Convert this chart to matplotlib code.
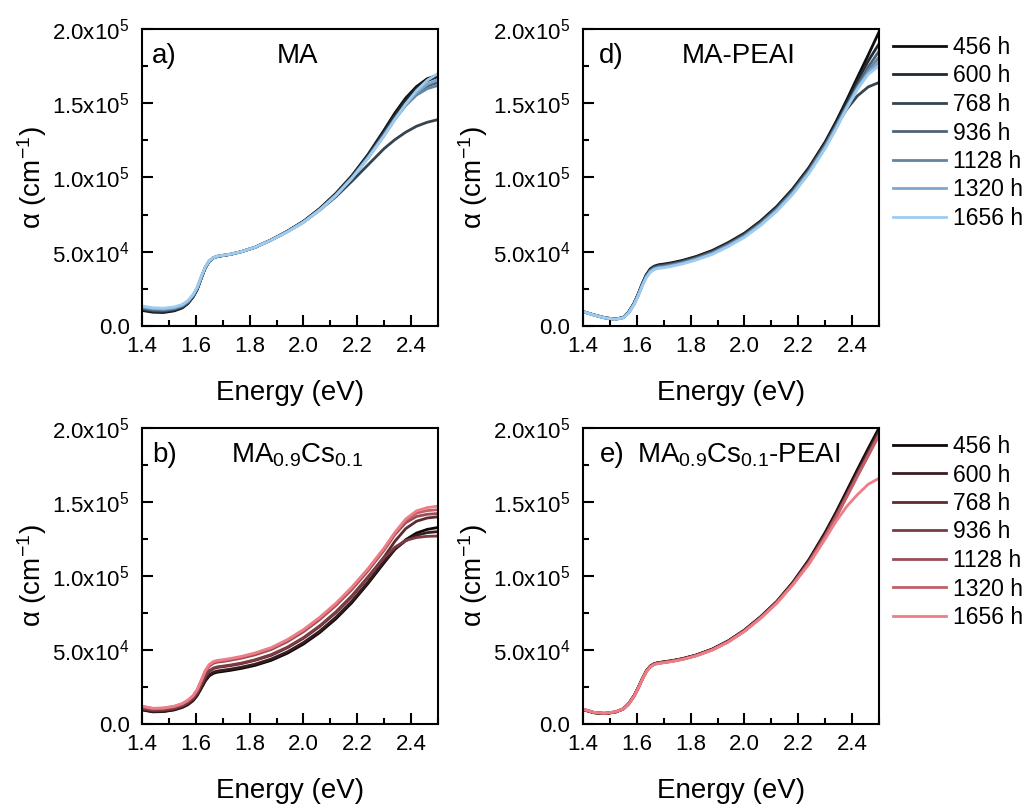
import matplotlib
matplotlib.use("Agg")
import matplotlib.pyplot as plt
from matplotlib.ticker import MultipleLocator

plt.rcParams['font.family'] = ['Liberation Sans', 'DejaVu Sans']
plt.rcParams['mathtext.fontset'] = 'custom'
plt.rcParams['mathtext.rm'] = 'Liberation Sans'
plt.rcParams['mathtext.it'] = 'Liberation Sans:italic'
plt.rcParams['mathtext.default'] = 'regular'

# photon energy (eV)
energy = [1.40, 1.44, 1.48, 1.52, 1.55, 1.57, 1.59, 1.605, 1.62, 1.635, 1.65, 1.665, 1.68, 1.70, 1.73,
          1.77, 1.82, 1.88, 1.94, 2.00, 2.06, 2.12, 2.18, 2.24, 2.30, 2.34, 2.38, 2.42, 2.46, 2.50]
hours = ['456 h', '600 h', '768 h', '936 h', '1128 h', '1320 h', '1656 h']

# absorption coefficient in 1e4 cm^-1, one row per ageing time
ma = [
    [1.05, 0.93, 0.91, 1.02, 1.22, 1.50, 1.95, 2.45, 3.20, 3.90, 4.35, 4.58, 4.68, 4.74, 4.83,
     5.01, 5.30, 5.80, 6.38, 7.05, 7.90, 8.92, 10.12, 11.55, 13.20, 14.35, 15.35, 16.12, 16.65, 16.90],
    [1.10, 0.98, 0.96, 1.06, 1.26, 1.53, 1.98, 2.47, 3.22, 3.91, 4.36, 4.58, 4.68, 4.74, 4.83,
     5.01, 5.30, 5.80, 6.37, 7.04, 7.88, 8.89, 10.08, 11.50, 13.10, 14.22, 15.20, 15.98, 16.52, 16.80],
    [1.15, 1.03, 1.01, 1.11, 1.30, 1.57, 2.01, 2.50, 3.24, 3.93, 4.37, 4.59, 4.69, 4.75, 4.83,
     5.01, 5.30, 5.79, 6.36, 7.00, 7.80, 8.70, 9.75, 10.85, 11.95, 12.55, 13.05, 13.45, 13.72, 13.90],
    [1.20, 1.08, 1.05, 1.15, 1.33, 1.60, 2.03, 2.52, 3.26, 3.94, 4.37, 4.59, 4.69, 4.75, 4.84,
     5.01, 5.30, 5.79, 6.36, 7.02, 7.84, 8.84, 10.00, 11.40, 12.95, 14.02, 14.95, 15.70, 16.15, 16.40],
    [1.25, 1.13, 1.10, 1.19, 1.37, 1.63, 2.06, 2.55, 3.28, 3.95, 4.38, 4.60, 4.70, 4.76, 4.84,
     5.01, 5.30, 5.79, 6.35, 7.00, 7.82, 8.80, 9.97, 11.34, 12.86, 13.92, 14.85, 15.55, 15.98, 16.20],
    [1.30, 1.18, 1.15, 1.24, 1.41, 1.67, 2.09, 2.57, 3.30, 3.97, 4.39, 4.60, 4.70, 4.76, 4.84,
     5.01, 5.30, 5.78, 6.34, 6.99, 7.81, 8.79, 9.96, 11.32, 12.83, 13.92, 14.92, 15.72, 16.28, 16.60],
    [1.35, 1.23, 1.20, 1.28, 1.45, 1.70, 2.12, 2.60, 3.32, 3.98, 4.40, 4.60, 4.70, 4.76, 4.84,
     5.01, 5.30, 5.78, 6.33, 6.98, 7.80, 8.78, 9.95, 11.30, 12.80, 13.90, 14.95, 15.85, 16.55, 17.00],
]
ma_peai = [
    [0.97, 0.75, 0.56, 0.46, 0.58, 0.95, 1.55, 2.15, 2.85, 3.45, 3.85, 4.03, 4.12, 4.17, 4.26,
     4.42, 4.68, 5.08, 5.62, 6.25, 7.07, 8.05, 9.25, 10.68, 12.40, 13.75, 15.22, 16.75, 18.25, 19.80],
    [0.97, 0.75, 0.56, 0.46, 0.58, 0.94, 1.53, 2.13, 2.82, 3.42, 3.81, 3.99, 4.08, 4.13, 4.22,
     4.38, 4.64, 5.04, 5.58, 6.20, 7.02, 8.00, 9.19, 10.61, 12.32, 13.65, 15.05, 16.50, 17.85, 19.00],
    [0.97, 0.75, 0.56, 0.46, 0.57, 0.93, 1.52, 2.11, 2.79, 3.38, 3.77, 3.95, 4.04, 4.09, 4.18,
     4.34, 4.60, 4.99, 5.53, 6.16, 6.97, 7.94, 9.13, 10.55, 12.25, 13.45, 14.60, 15.50, 16.10, 16.40],
    [0.97, 0.74, 0.55, 0.45, 0.57, 0.92, 1.50, 2.09, 2.77, 3.35, 3.74, 3.92, 4.00, 4.05, 4.14,
     4.30, 4.56, 4.95, 5.49, 6.11, 6.92, 7.89, 9.07, 10.48, 12.17, 13.50, 14.85, 16.20, 17.45, 18.50],
    [0.97, 0.74, 0.55, 0.45, 0.56, 0.90, 1.48, 2.06, 2.74, 3.32, 3.70, 3.88, 3.96, 4.00, 4.10,
     4.26, 4.52, 4.91, 5.44, 6.06, 6.87, 7.83, 9.00, 10.41, 12.10, 13.40, 14.75, 16.05, 17.20, 18.10],
    [0.97, 0.74, 0.55, 0.45, 0.56, 0.89, 1.47, 2.04, 2.71, 3.28, 3.66, 3.84, 3.92, 3.96, 4.06,
     4.22, 4.48, 4.86, 5.40, 6.02, 6.82, 7.78, 8.94, 10.35, 12.02, 13.32, 14.70, 16.00, 17.05, 17.80],
    [0.97, 0.74, 0.55, 0.45, 0.55, 0.88, 1.45, 2.02, 2.68, 3.25, 3.62, 3.80, 3.88, 3.92, 4.02,
     4.18, 4.44, 4.82, 5.35, 5.97, 6.77, 7.72, 8.88, 10.28, 11.95, 13.25, 14.65, 15.95, 16.95, 17.50],
]
ma_cs = [
    [0.95, 0.82, 0.84, 0.95, 1.12, 1.30, 1.58, 1.92, 2.40, 2.90, 3.25, 3.42, 3.50, 3.55, 3.63,
     3.76, 3.96, 4.30, 4.78, 5.40, 6.17, 7.10, 8.20, 9.50, 10.90, 11.80, 12.45, 12.90, 13.15, 13.28],
    [0.98, 0.84, 0.86, 0.98, 1.15, 1.33, 1.61, 1.96, 2.46, 2.97, 3.33, 3.50, 3.58, 3.63, 3.71,
     3.84, 4.04, 4.39, 4.87, 5.50, 6.27, 7.21, 8.31, 9.60, 11.00, 11.82, 12.38, 12.75, 12.93, 13.00],
    [1.05, 0.92, 0.94, 1.05, 1.22, 1.42, 1.72, 2.08, 2.62, 3.18, 3.56, 3.74, 3.82, 3.87, 3.95,
     4.08, 4.30, 4.64, 5.15, 5.79, 6.58, 7.52, 8.62, 9.90, 11.30, 12.35, 13.20, 13.70, 13.92, 14.00],
    [1.06, 0.93, 0.95, 1.06, 1.24, 1.44, 1.73, 2.10, 2.65, 3.22, 3.60, 3.78, 3.86, 3.91, 3.99,
     4.12, 4.34, 4.69, 5.19, 5.84, 6.63, 7.57, 8.67, 9.95, 11.25, 11.95, 12.40, 12.60, 12.68, 12.70],
    [1.16, 1.02, 1.04, 1.16, 1.34, 1.56, 1.87, 2.26, 2.87, 3.50, 3.90, 4.10, 4.18, 4.22, 4.31,
     4.45, 4.67, 5.03, 5.56, 6.23, 7.05, 8.00, 9.09, 10.35, 11.75, 12.80, 13.60, 14.02, 14.17, 14.22],
    [1.19, 1.05, 1.07, 1.19, 1.37, 1.59, 1.90, 2.30, 2.92, 3.57, 3.98, 4.18, 4.26, 4.30, 4.39,
     4.53, 4.76, 5.12, 5.65, 6.33, 7.15, 8.10, 9.20, 10.45, 11.85, 12.90, 13.75, 14.25, 14.42, 14.48],
    [1.20, 1.06, 1.08, 1.20, 1.38, 1.60, 1.92, 2.32, 2.95, 3.60, 4.02, 4.22, 4.30, 4.34, 4.43,
     4.57, 4.80, 5.16, 5.70, 6.38, 7.20, 8.15, 9.25, 10.50, 11.90, 12.95, 13.85, 14.40, 14.62, 14.72],
]
ma_cs_peai = [
    [0.98, 0.76, 0.70, 0.80, 1.02, 1.38, 1.92, 2.45, 3.05, 3.58, 3.92, 4.08, 4.15, 4.20, 4.28,
     4.42, 4.66, 5.06, 5.62, 6.35, 7.25, 8.28, 9.58, 11.12, 12.95, 14.30, 15.75, 17.20, 18.62, 20.00],
    [0.98, 0.77, 0.71, 0.80, 1.02, 1.38, 1.91, 2.44, 3.04, 3.57, 3.91, 4.07, 4.14, 4.19, 4.27,
     4.41, 4.65, 5.05, 5.61, 6.33, 7.23, 8.26, 9.54, 11.05, 12.85, 14.18, 15.60, 17.03, 18.43, 19.80],
    [0.99, 0.77, 0.71, 0.81, 1.02, 1.37, 1.90, 2.43, 3.03, 3.56, 3.90, 4.06, 4.13, 4.18, 4.26,
     4.40, 4.64, 5.04, 5.59, 6.32, 7.21, 8.24, 9.50, 11.00, 12.78, 14.10, 15.50, 16.92, 18.30, 19.70],
    [0.99, 0.78, 0.72, 0.81, 1.02, 1.37, 1.90, 2.43, 3.03, 3.55, 3.89, 4.05, 4.12, 4.17, 4.25,
     4.39, 4.63, 5.03, 5.58, 6.30, 7.20, 8.22, 9.48, 10.96, 12.72, 14.03, 15.43, 16.85, 18.22, 19.60],
    [1.00, 0.78, 0.72, 0.81, 1.02, 1.36, 1.89, 2.42, 3.02, 3.54, 3.88, 4.04, 4.11, 4.16, 4.24,
     4.38, 4.62, 5.01, 5.57, 6.29, 7.18, 8.20, 9.46, 10.93, 12.68, 13.98, 15.38, 16.80, 18.17, 19.55],
    [1.00, 0.79, 0.73, 0.82, 1.02, 1.36, 1.88, 2.41, 3.01, 3.53, 3.87, 4.03, 4.10, 4.15, 4.23,
     4.37, 4.61, 5.00, 5.55, 6.27, 7.16, 8.18, 9.44, 10.90, 12.65, 13.95, 15.34, 16.75, 18.12, 19.50],
    [1.01, 0.79, 0.73, 0.82, 1.02, 1.35, 1.87, 2.40, 3.00, 3.52, 3.86, 4.02, 4.09, 4.14, 4.22,
     4.36, 4.60, 4.99, 5.54, 6.26, 7.14, 8.16, 9.40, 10.80, 12.50, 13.68, 14.70, 15.50, 16.20, 16.60],
]

blues = ['#0d0d0d', '#1f2a33', '#36444f', '#4d6378', '#6584a0', '#7da6cb', '#9ecbf0']
reds = ['#0e0707', '#3a1c20', '#5a2b31', '#7b3b43', '#9d4c55', '#c15f69', '#ef7d86']

yticks = [0, 5e4, 1e5, 1.5e5, 2e5]
ytick_labels = ['0.0', '5.0x10$^4$', '1.0x10$^5$', '1.5x10$^5$', '2.0x10$^5$']

W, H = 1028, 808
fig = plt.figure(figsize=(W / 100, H / 100), dpi=100)

panels = [
    # data, colours, letter, title, left px, top px, bottom px, letter x, legend
    (ma, blues, 'a)', 'MA', 142, 29, 326, 0.034, False),
    (ma_peai, blues, 'd)', 'MA-PEAI', 583, 29, 326, 0.054, True),
    (ma_cs, reds, 'b)', 'MA$_{0.9}$Cs$_{0.1}$', 142, 428, 724, 0.034, False),
    (ma_cs_peai, reds, 'e)', 'MA$_{0.9}$Cs$_{0.1}$-PEAI', 583, 428, 724, 0.057, True),
]

for data, cols, letter, title, left, top, bottom, lx, show_leg in panels:
    ax = fig.add_axes([left / W, 1 - bottom / H, 296 / W, (bottom - top) / H])
    for vals, c, lab in zip(data, cols, hours):
        ax.plot(energy, [v * 1e4 for v in vals], color=c, lw=2.0, label=lab)
    ax.set_xlim(1.4, 2.5)
    ax.set_ylim(0, 2e5)
    ax.set_xticks([1.4, 1.6, 1.8, 2.0, 2.2, 2.4])
    ax.set_xticklabels(['1.4', '1.6', '1.8', '2.0', '2.2', '2.4'])
    ax.xaxis.set_minor_locator(MultipleLocator(0.1))
    ax.set_yticks(yticks)
    ax.set_yticklabels(ytick_labels)
    ax.yaxis.set_minor_locator(MultipleLocator(2.5e4))
    ax.tick_params(which='both', direction='in', top=False, right=False,
                   labelsize=16, width=1.5)
    ax.tick_params(which='major', length=8)
    ax.tick_params(which='minor', length=4)
    ax.tick_params(axis='y', pad=9)
    ax.tick_params(axis='x', pad=7)
    for s in ax.spines.values():
        s.set_linewidth(1.5)
    ax.set_xlabel('Energy (eV)', fontsize=20, va='center')
    ax.xaxis.set_label_coords(0.5, -0.225)
    ax.set_ylabel('α (cm$^{-1}$)', fontsize=20, va='center')
    ax.yaxis.set_label_coords(-0.37, 0.5)
    ax.text(lx, 0.885, letter, transform=ax.transAxes, fontsize=20,
            ha='left', va='baseline')
    ax.text(0.525, 0.885, title, transform=ax.transAxes, fontsize=20,
            ha='center', va='baseline')
    if show_leg:
        ax.legend(loc='upper left', bbox_to_anchor=(893 / W, 1 - (top + 7) / H),
                  bbox_transform=fig.transFigure, frameon=False, fontsize=16.5,
                  handlelength=2.3, handletextpad=0.3, labelspacing=0.24,
                  borderpad=0, borderaxespad=0)

fig.savefig('out.png', dpi=100)
